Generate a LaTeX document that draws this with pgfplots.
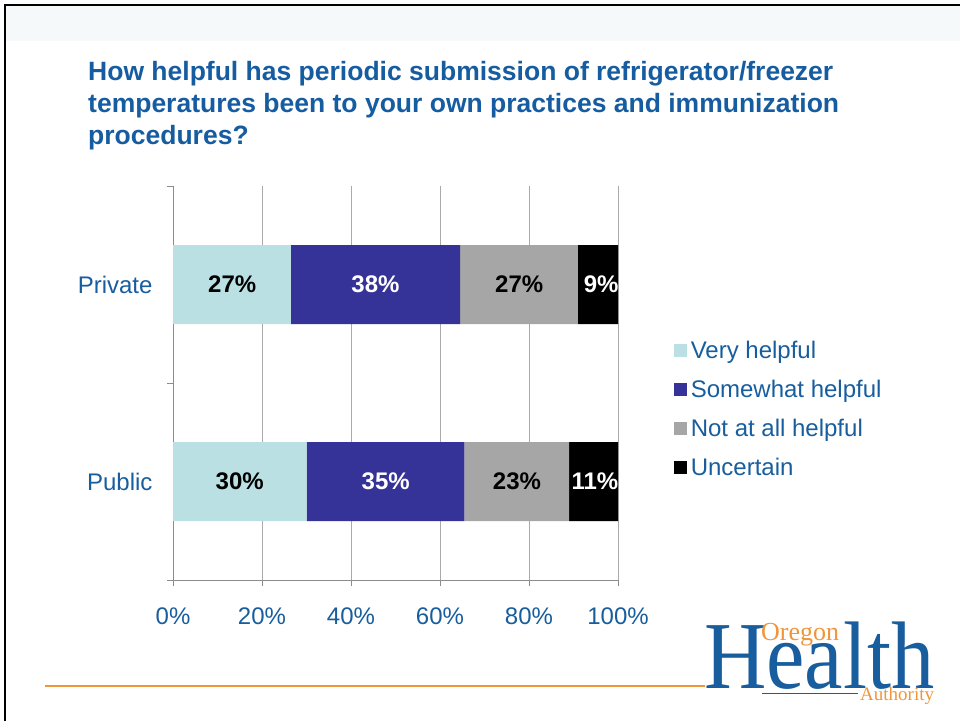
\documentclass[border=0pt]{standalone}
\usepackage{pgfplots}
\pgfplotsset{compat=1.18}
\usepackage{fontspec}
\setmainfont{Liberation Sans}
\newfontfamily\seriffont{Liberation Serif}
\definecolor{lblue}{RGB}{186,224,227}
\definecolor{purp}{RGB}{54,51,152}
\definecolor{mgray}{RGB}{166,166,166}
\definecolor{txtblue}{RGB}{24,94,158}
\definecolor{ttlblue}{RGB}{22,92,160}
\definecolor{ohaorange}{RGB}{240,150,58}
\definecolor{axgray}{RGB}{140,140,140}
\definecolor{gridgray}{RGB}{170,170,170}
\definecolor{band}{RGB}{245,249,249}
\begin{document}
\begin{tikzpicture}[x=1pt,y=1pt]
\useasboundingbox (0,0) rectangle (960,721);
\fill[white] (0,0) rectangle (960,721);
\fill[band] (6,680) rectangle (960,715);
\draw[black,line width=2pt] (5,0) -- (5,716) -- (960,716);
% title
\node[anchor=base west,inner sep=0,text=ttlblue,font=\fontsize{26.5}{32}\selectfont\bfseries] at (88,721-81) {How helpful has periodic submission of refrigerator/freezer};
\node[anchor=base west,inner sep=0,text=ttlblue,font=\fontsize{26.5}{32}\selectfont\bfseries] at (88,721-113) {temperatures been to your own practices and immunization};
\node[anchor=base west,inner sep=0,text=ttlblue,font=\fontsize{26.5}{32}\selectfont\bfseries] at (88,721-145) {procedures?};
% orange rule
\draw[ohaorange,line width=2.2pt] (45,721-686) -- (705,721-686);
% logo
\node[anchor=base west,inner sep=0,text=txtblue,font=\seriffont\fontsize{96}{96}\selectfont,xscale=0.9] at (704,721-688) {Health};
\node[anchor=base west,inner sep=0,text=ohaorange,font=\seriffont\fontsize{26}{26}\selectfont] at (761,721-640) {Oregon};
\node[anchor=base west,inner sep=0,text=ohaorange,font=\seriffont\fontsize{19}{19}\selectfont] at (860,721-700) {Authority};
\draw[txtblue,line width=1pt] (762,721-693) -- (858,721-693);

\begin{axis}[
  at={(173pt,141pt)}, anchor=south west,
  scale only axis, width=445pt, height=394pt,
  xbar stacked, bar width=79pt,
  xmin=0, xmax=100, ymin=-0.5, ymax=1.5,
  axis x line*=bottom, axis y line*=left,
  axis line style={axgray, line width=0.8pt},
  x axis line style={-}, y axis line style={-},
  xtick={0,20,40,60,80,100},
  xticklabels={0\%,20\%,40\%,60\%,80\%,100\%},
  xmajorgrids, grid style={gridgray, line width=0.8pt},
  ytick={-0.5,0.5,1.5}, yticklabels={,,},
  extra y ticks={0,1}, extra y tick labels={Public,Private},
  extra y tick style={major tick length=0pt, yticklabel style={xshift=-17pt}},
  tick align=outside, major tick length=6pt,
  tick style={axgray, line width=0.8pt},
  ticklabel style={font=\fontsize{24}{28}\selectfont, text=txtblue},
  xticklabel style={yshift=-18pt},
  legend style={at={(1.126,0.616)}, anchor=north west, draw=none, fill=none,
    font=\fontsize{24}{28}\selectfont, text=txtblue, row sep=13pt,
    legend cell align=left, inner sep=0pt, nodes={inner sep=3.5pt},
    /tikz/every odd column/.append style={inner xsep=4.5pt}},
  legend image code/.code={\fill[#1] (0pt,-6.5pt) rectangle (13pt,6.5pt);},
  clip=false,
]
\addplot[fill=lblue, draw=none] coordinates {(30,0) (26.5,1)};
\addplot[fill=purp, draw=none] coordinates {(35.5,0) (38,1)};
\addplot[fill=mgray, draw=none] coordinates {(23.5,0) (26.5,1)};
\addplot[fill=black, draw=none] coordinates {(11,0) (9,1)};
\legend{Very helpful,Somewhat helpful,Not at all helpful,Uncertain}
\end{axis}

\begin{axis}[
  at={(173pt,141pt)}, anchor=south west,
  scale only axis, width=445pt, height=394pt,
  xmin=0, xmax=100, ymin=-0.5, ymax=1.5,
  hide axis, clip=false,
  nodes near coords, point meta=explicit symbolic,
  every node near coord/.append style={anchor=center, font=\fontsize{24}{28}\selectfont\bfseries},
]
\addplot[only marks, mark=none, nodes near coords style={text=black}] table[meta=label] {
x y label
15 0 30\%
77.3 0 23\%
13.3 1 27\%
77.8 1 27\%
};
\addplot[only marks, mark=none, nodes near coords style={text=white}] table[meta=label] {
x y label
47.8 0 35\%
94.8 0 11\%
45.5 1 38\%
96.2 1 9\%
};
\end{axis}
\end{tikzpicture}
\end{document}
